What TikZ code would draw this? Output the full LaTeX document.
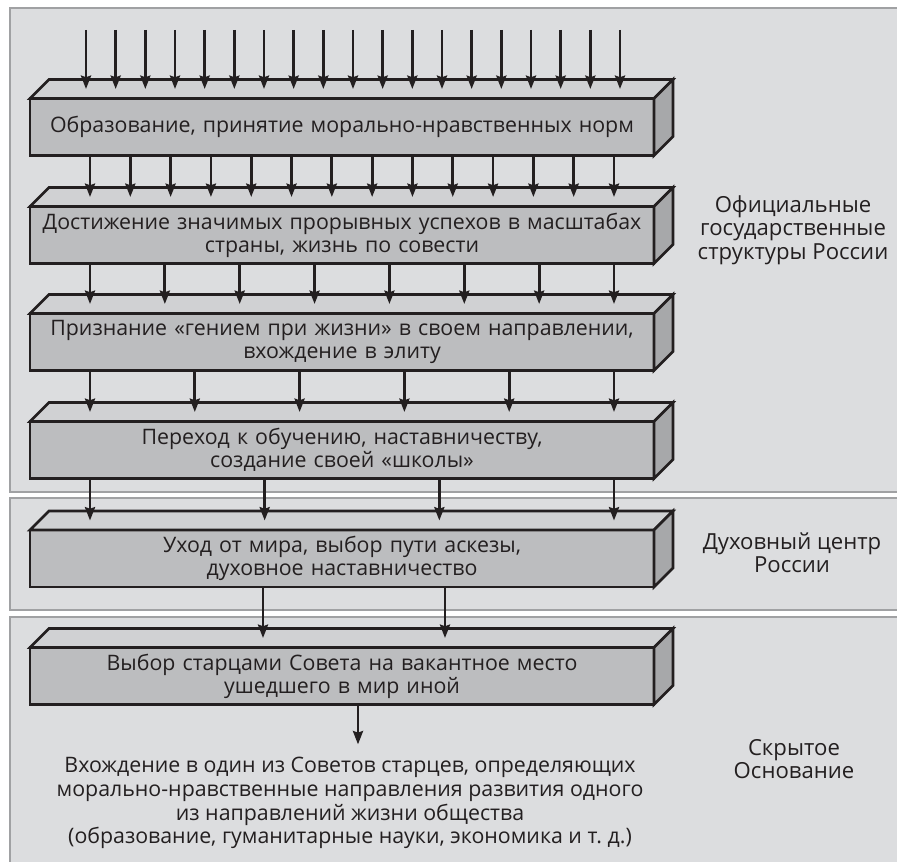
\documentclass[tikz,border=0pt]{standalone}
\usepackage{fontspec}
\setmainfont{Open Sans}
\usetikzlibrary{arrows.meta,positioning,calc}
\definecolor{panelgray}{HTML}{DCDDDF}
\definecolor{panelline}{HTML}{A0A1A3}
\definecolor{frontgray}{HTML}{BCBDBF}
\definecolor{topgray}{HTML}{D0D1D3}
\definecolor{sidegray}{HTML}{A7A8AA}
\definecolor{ink}{HTML}{231F20}
\newcommand{\stagefont}{\fontsize{16}{17.4}\selectfont}
\newcommand{\levelfont}{\fontsize{16.6}{17.6}\selectfont}
\newcommand{\resultfont}{\fontsize{16}{17.8}\selectfont}
\tikzset{
    every picture/.style={line join=miter},
    panelrule/.style={draw=panelline,line width=1.4pt},
    stagebox/.style={draw=ink,fill=frontgray,line width=1.9pt,
      minimum width=468pt,minimum height=42.75pt,inner sep=0pt,outer sep=0pt,
      text width=466pt,align=center,font=\stagefont,text=ink},
    topface/.style={draw=ink,fill=topgray,line width=1.9pt},
    sideface/.style={draw=ink,fill=sidegray,line width=1.9pt},
    flowarrow/.style={-{Stealth[length=10pt,width=7.5pt,inset=1.2pt]},draw=ink,
      line width=2.1pt},
    levellabel/.style={align=center,font=\levelfont,text=ink}
}
\begin{document}
\begin{tikzpicture}[x=0.75pt,y=-0.75pt]
  \useasboundingbox (0,0) rectangle (897,862);
  % three levels
  \fill[panelgray] (10,8) rectangle (897,492);
  \draw[panelrule] (897,8) -- (10,8) -- (10,492) -- (897,492);
  \fill[panelgray] (10,498) rectangle (897,610);
  \draw[panelrule] (897,498) -- (10,498) -- (10,610) -- (897,610);
  \fill[panelgray] (10,617) rectangle (897,862);
  \draw[panelrule] (897,617) -- (10,617) -- (10,862);

  \node[stagebox] (b1) at (342,127) {Образование, принятие морально-нравственных норм};
  \node[stagebox] (b2) at (342,235) {Достижение значимых прорывных успехов в масштабах\\страны, жизнь по совести};
  \node[stagebox] (b3) at (342,342) {Признание «гением при жизни» в своем направлении,\\вхождение в элиту};
  \node[stagebox] (b4) at (342,450) {Переход к обучению, наставничеству,\\создание своей «школы»};
  \node[stagebox] (b5) at (342,558.5) {Уход от мира, выбор пути аскезы,\\духовное наставничество};
  \node[stagebox] (b6) at (342,676) {Выбор старцами Совета на вакантное место\\ушедшего в мир иной};
  \node[levellabel,font=\resultfont] (res) at (350,803) {Вхождение в один из Советов старцев, определяющих\\морально-нравственные направления развития одного\\из направлений жизни общества\\(образование, гуманитарные науки, экономика и т.~д.)};

  \foreach \b in {b1,b2,b3,b4,b5,b6}{
    \draw[topface] (\b.north west) -- ++(19,-19) -- ([shift={(19,-19)}]\b.north east) -- (\b.north east) -- cycle;
    \draw[sideface] (\b.north east) -- ++(19,-19) -- ([shift={(19,-19)}]\b.south east) -- (\b.south east) -- cycle;
    \coordinate (\b top) at ([shift={(0,-9.5)}]\b.north);}

  \node[levellabel] (lab1) at (793,230) {Официальные\\государственные\\структуры России};
  \node[levellabel] (lab2) at (792,553) {Духовный центр\\России};
  \node[levellabel] (lab3) at (794,759) {Скрытое\\Основание};

  % arrows
  \coordinate (feed) at (342,30);
  \foreach \i in {0,...,18}{
    \pgfmathsetmacro\ax{86+\i*534/18}
    \draw[flowarrow] (\ax,0 |- feed) -- (\ax,0 |- b1top);}
  \foreach \a/\b/\n in {b1/b2/14,b2/b3/8,b3/b4/6,b4/b5/4}{
    \foreach \i in {1,...,\n}{
      \pgfmathsetmacro\ax{90+(\i-1)*524/(\n-1)}
      \draw[flowarrow] (\ax,0 |- \a.south) -- (\ax,0 |- \b top);}}
  \foreach \ax in {263,445}
    \draw[flowarrow] (\ax,0 |- b5.south) -- (\ax,0 |- b6top);
  \draw[flowarrow,shorten >=6pt] (358,0 |- b6.south) -- (358,0 |- res.north);
\end{tikzpicture}
\end{document}
